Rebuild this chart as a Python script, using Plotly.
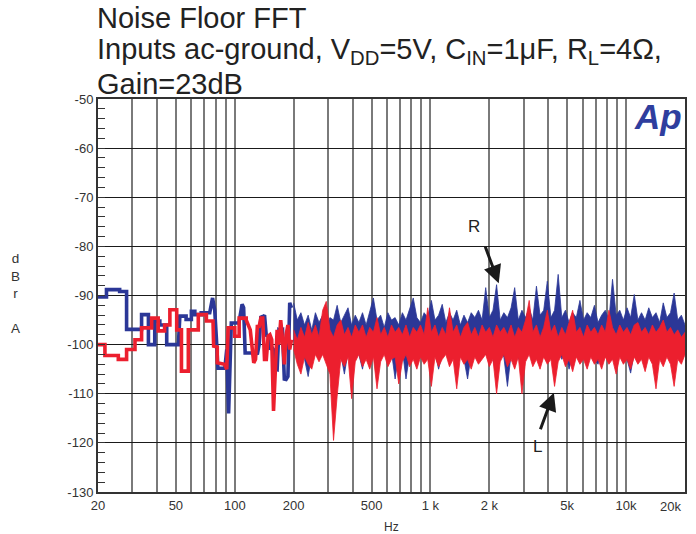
import numpy as np
import plotly.graph_objects as go

# ---- low-frequency part of the spectrum (stepped FFT bins), Hz / dBrA ----
BLUE_LOW_F = [20, 22.1, 22.1, 25.8, 25.8, 28, 28, 33.4, 33.4, 36.2, 36.2, 39, 39, 41.4, 41.4,
              44.9, 44.9, 51.5, 52.4, 56.4, 56.4, 60, 60, 62.5, 62.5, 67.4, 67.4, 74.5, 77, 79,
              80.5, 82, 89, 91, 93, 94.5, 96, 105, 109, 111, 113, 122]
BLUE_LOW_DB = [-90.3, -90.3, -88.8, -88.8, -89.2, -89.2, -96.9, -96.9, -93.9, -93.9, -100, -100,
               -95.2, -95.2, -96, -96, -100, -100, -94.2, -94.2, -94.9, -94.9, -93.2, -93.2,
               -93.9, -93.9, -93.5, -93.5, -90.5, -93, -98.5, -104.8, -104.8, -101, -114, -101,
               -95.6, -95.6, -91.8, -92.5, -101.7, -101.7]

RED_LOW_F = [20, 21.7, 21.7, 25.4, 25.4, 28, 28, 30.9, 30.9, 33.4, 33.4, 37.6, 37.6, 40.6, 40.6,
             43.8, 43.8, 46.6, 46.6, 50.5, 50.5, 53.4, 53.4, 57.9, 57.9, 65.1, 65.1, 71.6, 71.6,
             77.4, 78, 81.4, 81.4, 88.6, 91, 92.5, 100, 100, 105.3, 105.3, 114.4, 114.4, 120]
RED_LOW_DB = [-100, -100, -102.2, -102.2, -103, -103, -101, -101, -99, -99, -96.6, -96.6, -94.6,
              -94.6, -97.2, -97.2, -96, -96, -92.9, -92.9, -97, -97, -105.4, -105.4, -97, -97,
              -93.9, -93.9, -95.2, -95.2, -100.3, -100.5, -103.7, -104, -105, -96.6, -96.6,
              -98.3, -98.3, -94.6, -94.6, -95, -97]

# ---- 125 .. 195 Hz, bins on a log grid, dBrA ----
BLUE_MID_DB = [-102, -101.5, -102, -100, -94.2, -94.5, -94, -98.3, -98, -101, -100.5, -101,
               -105, -105.1, -97, -97.2, -97, -107, -107.1, -106.5, -91.5, -92.5]
RED_MID_DB = [-103.7, -103, -96.3, -96.3, -94.6, -94.6, -103, -103, -98.3, -98, -99, -113.5,
              -105, -97, -100, -95, -99, -104, -98, -96, -101, -99]

# ---- 200 Hz .. 20 kHz: dense FFT, drawn as upper / lower trace envelopes, dBrA ----
BLUE_UPPER_DB = [
    -91.5, -95, -93.5, -96, -94, -97, -93.5, -95.5, -94, -96.5,
    -94.5, -95, -92, -95.5, -94, -92.5, -96, -94, -95.5, -93.5,
    -96, -93, -90.5, -95, -94, -96.5, -93.5, -95, -94.5, -96,
    -93.5, -95, -92.5, -90.5, -94.5, -95.5, -93.5, -94.5, -91, -95,
    -94, -91.8, -95.5, -93.5, -95, -93, -96, -94, -95.5, -93.5,
    -94.5, -93, -95, -88.4, -94.5, -93, -87.8, -95, -93.5, -94.5,
    -92.5, -88.4, -95, -93, -94.5, -92.5, -95, -88.1, -94, -93,
    -87.1, -94.5, -93, -85.7, -94.5, -93, -95.5, -93.5, -94.5, -91,
    -95, -93.5, -94.5, -92, -95.5, -94, -93, -95, -86.7, -94,
    -93, -95, -92.5, -94.5, -89.8, -95, -93.5, -95, -92.5, -94.5,
    -93.5, -95.5, -91.5, -94.5, -93.5, -89.5, -95, -94, -96,
]
BLUE_LOWER_DB = [
    -99, -102, -100.5, -103, -106.5, -102, -100, -103, -101, -102.5,
    -100.5, -103, -101, -102, -106, -101.5, -103, -100.5, -102, -105,
    -101, -102.5, -101, -107, -102, -100.5, -103, -101.5, -107, -102,
    -101, -107, -102, -100.5, -103, -101, -102.5, -101, -103, -101.5,
    -105, -102, -100.5, -103, -101.5, -102.5, -101, -103, -107, -102,
    -100.5, -103, -101.5, -102, -101, -103, -106.5, -101.5, -102.5, -108.5,
    -102, -101, -103, -101.5, -102.5, -101, -103, -101.5, -102.5, -101,
    -103, -101.5, -102, -100.5, -103, -101.5, -105, -102, -101, -103,
    -101.5, -102.5, -101, -103, -104, -101.5, -102.5, -101, -103, -101.5,
    -102, -101, -103, -105.8, -101.5, -102.5, -101, -103, -101.5, -102,
    -101, -103, -101.5, -102.5, -101, -102, -100.5, -101.5, -100,
]
RED_UPPER_DB = [
    -97, -99, -96.5, -98.5, -95.5, -98, -96, -98.5, -93, -91.2,
    -97, -98.5, -96, -95, -98, -96.5, -98.5, -96, -97.5, -96,
    -98.5, -96.5, -97.5, -94.5, -98, -96.5, -98.5, -96, -97.5, -96.5,
    -98, -96, -98.5, -96.5, -97.5, -96, -98, -92.5, -97.5, -96,
    -98.5, -96.5, -98, -92.5, -97.5, -96, -98.5, -96.5, -95.5, -98,
    -96.5, -98.5, -96, -97.5, -96.5, -98.5, -96, -97.5, -96.5, -98,
    -96, -98.5, -96.5, -97.5, -95, -91, -97.5, -96, -98.5, -96.5,
    -93, -97.5, -96, -98.5, -96.5, -98, -95.5, -93, -97.5, -96.5,
    -98.5, -96, -97.5, -96.5, -98, -96, -97.5, -93, -96.5, -98,
    -96, -97.5, -96.5, -98, -96, -95.5, -97.5, -96.5, -98, -96,
    -97.5, -96.5, -95, -97.5, -96.5, -98, -97, -98.5, -97.5,
]
RED_LOWER_DB = [
    -101, -104, -106, -102.5, -104, -105, -102, -103.5, -102, -104,
    -106, -119.5, -110.5, -103, -104.5, -102.5, -111, -103.5, -102, -104.5,
    -103, -105, -102.5, -109, -103.5, -102, -104.5, -103, -102.5, -108,
    -103.5, -102, -104.5, -103, -105, -102.5, -104, -103, -108.5, -102.5,
    -104.5, -103, -102, -104.5, -103, -109, -102.5, -104, -103, -105,
    -102.5, -104, -103, -102, -104.5, -103, -110, -103.5, -102, -104.5,
    -103, -105, -102.5, -110, -103.5, -102, -104.5, -103, -105, -102.5,
    -104, -103, -108.5, -103.5, -102, -104.5, -103, -105.5, -102.5, -104,
    -103, -105, -102.5, -104, -103, -105, -102.5, -104, -103, -106,
    -102.5, -104, -103, -105, -102.5, -104, -103, -105.5, -102.5, -104,
    -109, -103, -104.5, -102.5, -104, -108.5, -103, -104, -102,
]

MID_F = np.geomspace(125, 195, len(BLUE_MID_DB))
BAND_F = np.geomspace(200, 20000, len(BLUE_UPPER_DB))

X_GRID = [20, 30, 40, 50, 60, 70, 80, 90,
          100, 200, 300, 400, 500, 600, 700, 800, 900,
          1000, 2000, 3000, 4000, 5000, 6000, 7000, 8000, 9000, 10000, 20000]
X_LABELS = {20: "20", 50: "50", 100: "100", 200: "200", 500: "500",
            1000: "1 k", 2000: "2 k", 5000: "5k", 10000: "10k"}
Y_TICKS = [-50, -60, -70, -80, -90, -100, -110, -120, -130]

BLUE = "#2b3797"
RED = "#ec1f2e"
TXT = "#333333"

# plot-area geometry in page pixels
W, H = 696, 534
L, R, T, B = 98, 685, 99, 492


def px(xp):
    return (xp - L) / (R - L)


def py(yp):
    return (B - yp) / (B - T)


def add_channel(fig, color, low_f, low_db, mid_db, upper_db, lower_db, name):
    fig.add_trace(go.Scatter(
        x=list(low_f) + list(MID_F), y=list(low_db) + list(mid_db),
        mode="lines", line=dict(color=color, width=3.6), name=name, showlegend=False,
    ))
    fig.add_trace(go.Scatter(
        x=list(BAND_F) + list(BAND_F[::-1]), y=list(upper_db) + list(lower_db[::-1]),
        mode="lines", fill="toself", fillcolor=color, line=dict(color=color, width=0.8),
        name=name, showlegend=False,
    ))


fig = go.Figure()
add_channel(fig, BLUE, BLUE_LOW_F, BLUE_LOW_DB, BLUE_MID_DB, BLUE_UPPER_DB, BLUE_LOWER_DB, "R")
add_channel(fig, RED, RED_LOW_F, RED_LOW_DB, RED_MID_DB, RED_UPPER_DB, RED_LOWER_DB, "L")

fig.update_layout(
    width=W, height=H,
    margin=dict(l=L, r=W - R, t=T, b=H - B, pad=0),
    paper_bgcolor="white", plot_bgcolor="white",
    font=dict(family="Liberation Sans, Arial, sans-serif", color=TXT, size=13),
    xaxis=dict(
        type="log", range=[np.log10(20), np.log10(20000)], automargin=False,
        tickvals=X_GRID, ticktext=[X_LABELS.get(v, "") for v in X_GRID],
        ticks="", showgrid=True, gridcolor="#7a7a7a", gridwidth=1.5,
        showline=True, linecolor="#333333", linewidth=2, mirror=True,
        tickfont=dict(size=13, color=TXT), zeroline=False,
    ),
    yaxis=dict(
        range=[-130, -50], automargin=False,
        tickvals=Y_TICKS, ticktext=[str(v) for v in Y_TICKS],
        ticks="inside", ticklen=7, tickcolor="#333333", tickwidth=1.2,
        minor=dict(dtick=2, ticks="inside", ticklen=7, tickcolor="#333333",
                   tickwidth=1.2, showgrid=False),
        showgrid=True, gridcolor="#1a1a1a", gridwidth=1.2,
        showline=True, linecolor="#333333", linewidth=2, mirror=True,
        tickfont=dict(size=13, color=TXT), zeroline=False,
    ),
)

TITLE_FONT = dict(family="Liberation Sans, Arial, sans-serif", size=29, color="#222222")
title_lines = [
    "Noise Floor FFT",
    "Inputs ac-ground, V<sub>DD</sub>=5V, C<sub>IN</sub>=1\u03bcF, R<sub>L</sub>=4\u03a9,",
    "Gain=23dB",
]
for i, line in enumerate(title_lines):
    fig.add_annotation(text=line, xref="paper", yref="paper", x=px(95), y=py(18 + 33 * i),
                       xanchor="left", yanchor="middle", showarrow=False, font=TITLE_FONT)

# stacked y-axis unit label
fig.add_annotation(text="d<br>B<br>r<br><br>A", xref="paper", yref="paper",
                   x=px(15), y=py(293), xanchor="center", yanchor="middle",
                   showarrow=False, font=dict(size=13.5, color=TXT))

# x-axis unit label
fig.add_annotation(text="Hz", xref="paper", yref="paper", x=0.5, y=py(527),
                   xanchor="center", yanchor="middle", showarrow=False,
                   font=dict(size=12, color=TXT))

# last frequency label sits just inside the right edge
fig.add_annotation(text="20k", xref="x", yref="paper", x=np.log10(20000), y=py(506),
                   xanchor="right", yanchor="middle", xshift=-2, showarrow=False,
                   font=dict(size=13, color=TXT))

# analyzer logo
fig.add_annotation(text="<b><i>Ap</i></b>", xref="paper", yref="paper", x=px(658), y=py(116),
                   xanchor="center", yanchor="middle", showarrow=False,
                   font=dict(family="Liberation Sans, Arial, sans-serif", size=35, color="#2f3e9e"))

# channel markers
fig.add_annotation(text="", x=np.log10(2234), y=-87.5, ax=-14, ay=-38,
                   showarrow=True, arrowhead=2, arrowsize=1.2, arrowwidth=3, arrowcolor="#1a1a1a")
fig.add_annotation(text="R", xref="paper", yref="paper", x=px(474), y=py(226),
                   xanchor="center", yanchor="middle", showarrow=False,
                   font=dict(size=17, color="#222222"))
fig.add_annotation(text="", x=np.log10(4274), y=-109.8, ax=-14, ay=38,
                   showarrow=True, arrowhead=2, arrowsize=1.2, arrowwidth=3, arrowcolor="#1a1a1a")
fig.add_annotation(text="L", xref="paper", yref="paper", x=px(537), y=py(446),
                   xanchor="center", yanchor="middle", showarrow=False,
                   font=dict(size=17, color="#222222"))

fig.write_html("out.html")
